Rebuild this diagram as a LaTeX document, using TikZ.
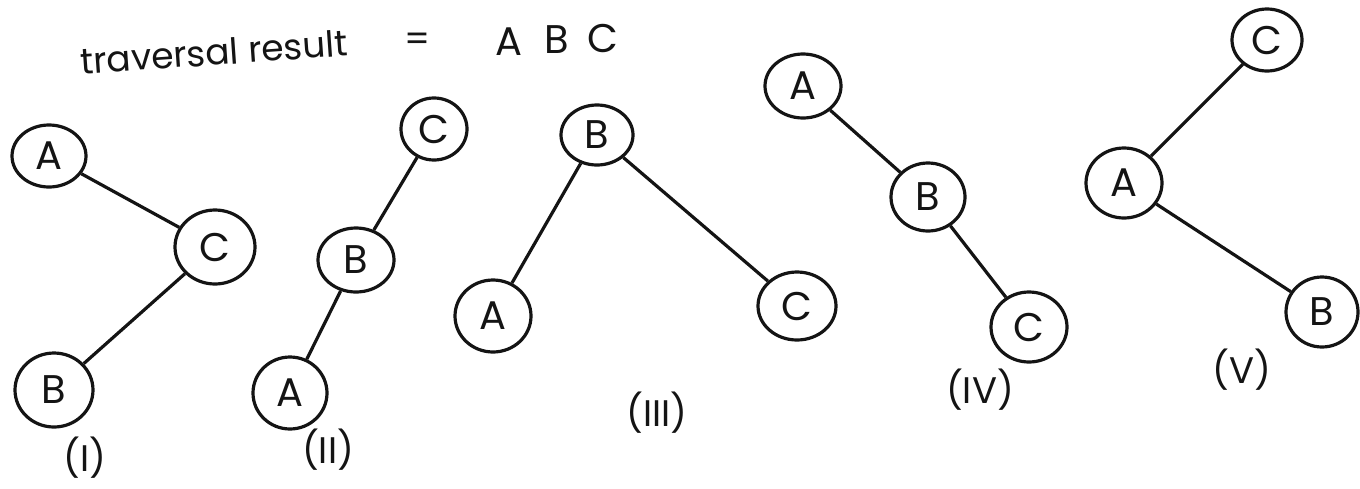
\documentclass[tikz,border=0pt]{standalone}
\usepackage{fontspec}
\setmainfont{Poppins}
\usetikzlibrary{shapes.geometric}
\definecolor{ink}{HTML}{141414}
\begin{document}
\begin{tikzpicture}[x=1pt,y=-1pt,
  tn/.style={draw=ink, text=ink, ellipse, line width=3.2pt, inner sep=0pt, font=\fontsize{40}{40}\selectfont},
  edge/.style={draw=ink, line width=3.2pt},
  lbl/.style={text=ink, font=\fontsize{37}{37}\selectfont},
  ttl/.style={text=ink, font=\fontsize{36}{36}\selectfont},
]
\useasboundingbox (0,0) rectangle (1360,488);
% title
\node[ttl, rotate=4] (t1) at (214,52) {traversal result};
\node[ttl] (t2) at (418,42) {=};
\node[ttl, font=\fontsize{40}{40}\selectfont] (t3) at (509,42) {A};
\node[ttl, font=\fontsize{40}{40}\selectfont] (t4) at (557,40) {B};
\node[ttl, font=\fontsize{40}{40}\selectfont] (t5) at (603,38) {C};
% tree I
\node[tn, minimum width=74pt, minimum height=62pt] (a1) at (49,156) {A};
\node[tn, minimum width=80pt, minimum height=74pt] (c1) at (215,247) {C};
\node[tn, minimum width=78pt, minimum height=74pt] (b1) at (54,390) {B};
\node[lbl] (l1) at (85,458) {(I)};
\draw[edge] (a1) -- (c1);
\draw[edge] (c1) -- (b1);
% tree II
\node[tn, minimum width=66pt, minimum height=62pt] (c2) at (434,129) {C};
\node[tn, minimum width=76pt, minimum height=64pt] (b2) at (356,260) {B};
\node[tn, minimum width=74pt, minimum height=72pt] (a2) at (290,393) {A};
\node[lbl] (l2) at (328,450) {(II)};
\draw[edge] (c2) -- (b2);
\draw[edge] (b2) -- (a2);
% tree III
\node[tn, minimum width=72pt, minimum height=60pt] (b3) at (597,135) {B};
\node[tn, minimum width=76pt, minimum height=72pt] (a3) at (493,316) {A};
\node[tn, minimum width=78pt, minimum height=68pt] (c3) at (797,306) {C};
\node[lbl] (l3) at (657,413) {(III)};
\draw[edge] (b3) -- (a3);
\draw[edge] (b3) -- (c3);
% tree IV
\node[tn, minimum width=76pt, minimum height=64pt] (a4) at (803,86) {A};
\node[tn, minimum width=74pt, minimum height=68pt] (b4) at (928,197) {B};
\node[tn, minimum width=76pt, minimum height=70pt] (c4) at (1029,327) {C};
\node[lbl] (l4) at (980,390) {(IV)};
\draw[edge] (a4) -- (b4);
\draw[edge] (b4) -- (c4);
% tree V
\node[tn, minimum width=70pt, minimum height=62pt] (c5) at (1267,40) {C};
\node[tn, minimum width=76pt, minimum height=70pt] (a5) at (1124,183) {A};
\node[tn, minimum width=72pt, minimum height=70pt] (b5) at (1322,312) {B};
\node[lbl] (l5) at (1242,370) {(V)};
\draw[edge] (c5) -- (a5);
\draw[edge] (a5) -- (b5);
\end{tikzpicture}
\end{document}
